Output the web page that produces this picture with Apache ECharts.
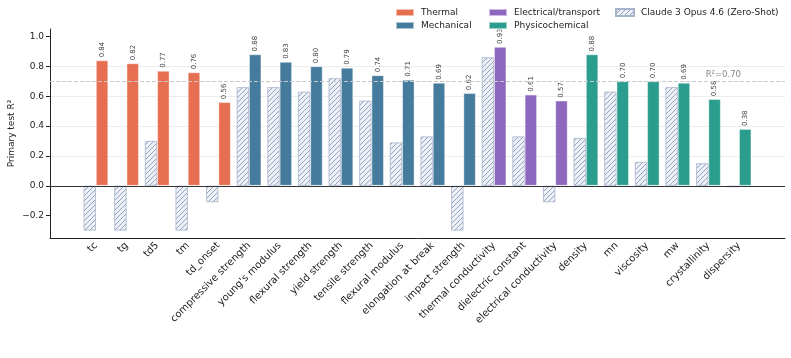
<!DOCTYPE html>
<html>
<head>
<meta charset="utf-8">
<script src="https://cdn.jsdelivr.net/npm/echarts@6/dist/echarts.min.js"></script>
<style>
  html, body { margin: 0; padding: 0; background: #fff; }
  #chart { width: 791px; height: 358px; }
</style>
</head>
<body>
<div id="chart"></div>
<script>
// property names, left to right
const categories = ['tc', 'tg', 'td5', 'tm', 'td_onset', 'compressive strength', "young's modulus",
  'flexural strength', 'yield strength', 'tensile strength', 'flexural modulus', 'elongation at break',
  'impact strength', 'thermal conductivity', 'dielectric constant', 'electrical conductivity',
  'density', 'mn', 'viscosity', 'mw', 'crystallinity', 'dispersity'];

// group of each property
const groups = ['Thermal', 'Thermal', 'Thermal', 'Thermal', 'Thermal',
  'Mechanical', 'Mechanical', 'Mechanical', 'Mechanical', 'Mechanical', 'Mechanical', 'Mechanical', 'Mechanical',
  'Electrical/transport', 'Electrical/transport', 'Electrical/transport',
  'Physicochemical', 'Physicochemical', 'Physicochemical', 'Physicochemical', 'Physicochemical', 'Physicochemical'];

// trained model R2
const modelR2 = [0.84, 0.82, 0.77, 0.76, 0.56, 0.88, 0.83, 0.80, 0.79, 0.74, 0.71, 0.69,
  0.62, 0.93, 0.61, 0.57, 0.88, 0.70, 0.70, 0.69, 0.58, 0.38];

// zero-shot LLM R2 (clipped at -0.3)
const zeroShotR2 = [-0.30, -0.30, 0.30, -0.30, -0.11, 0.66, 0.66, 0.63, 0.72, 0.57, 0.29, 0.33,
  -0.30, 0.86, 0.33, -0.11, 0.32, 0.63, 0.16, 0.66, 0.15, -0.01];

const groupNames = ['Thermal', 'Mechanical', 'Electrical/transport', 'Physicochemical'];
const groupColors = ['#E76F51', '#457B9D', '#8E67BF', '#2A9D8F'];
const yTicks = [-0.2, 0.0, 0.2, 0.4, 0.6, 0.8, 1.0];
const threshold = 0.70;
const zeroShotName = 'Claude 3 Opus 4.6 (Zero-Shot)';

// hatch pattern like matplotlib '///'
function makeHatch() {
  const s = 5;
  const c = document.createElement('canvas');
  c.width = s; c.height = s;
  const ctx = c.getContext('2d');
  ctx.fillStyle = '#edf0f6';
  ctx.fillRect(0, 0, s, s);
  ctx.strokeStyle = '#8a9bb9';
  ctx.lineWidth = 0.9;
  ctx.beginPath();
  ctx.moveTo(0, s); ctx.lineTo(s, 0);
  ctx.moveTo(-s / 2, s / 2); ctx.lineTo(s / 2, -s / 2);
  ctx.moveTo(s / 2, s * 1.5); ctx.lineTo(s * 1.5, s / 2);
  ctx.stroke();
  return c;
}
const hatch = { image: makeHatch(), repeat: 'repeat' };

// one empty slot at each end, like matplotlib's x margins
const axisCats = [''].concat(categories, ['']);
const pad = arr => [null].concat(arr, [null]);

const series = [{
  name: zeroShotName,
  type: 'bar',
  barWidth: 12.3,
  barGap: '0%',
  data: pad(zeroShotR2),
  itemStyle: { color: hatch, borderColor: '#a7b4cc', borderWidth: 0.8 },
  markLine: {
    silent: true,
    symbol: 'none',
    data: [
      {
        yAxis: 0,
        lineStyle: { color: '#333', type: 'solid', width: 1 },
        label: { show: false }
      },
      {
        yAxis: threshold,
        lineStyle: { color: '#c8c8c8', type: 'dashed', width: 1 },
        label: {
          show: true,
          position: 'insideEndTop',
          distance: 2,
          formatter: 'R²=' + threshold.toFixed(2),
          color: '#888',
          fontSize: 8.5,
          fontFamily: 'DejaVu Sans',
          padding: [0, 42, 0, 0]
        }
      }
    ]
  },
  z: 2
}];

groupNames.forEach((g, gi) => {
  series.push({
    name: g,
    type: 'bar',
    stack: 'model',
    barWidth: 12.3,
    data: pad(modelR2.map((v, i) => groups[i] === g ? v : null)),
    itemStyle: { color: groupColors[gi], borderColor: 'rgba(255,255,255,0.55)', borderWidth: 0.8 },
    label: {
      show: true,
      position: 'top',
      rotate: 90,
      align: 'left',
      verticalAlign: 'middle',
      distance: 3,
      fontSize: 7,
      fontFamily: 'DejaVu Sans',
      color: '#444',
      formatter: p => p.value == null ? '' : Number(p.value).toFixed(2)
    },
    z: 3
  });
});

const legendBase = {
  orient: 'vertical',
  top: 3,
  icon: 'rect',
  itemWidth: 18,
  itemHeight: 7,
  itemGap: 4,
  selectedMode: false,
  textStyle: { fontSize: 9, lineHeight: 9, fontFamily: 'DejaVu Sans', color: '#222', padding: [0, 0, 0, 2] }
};

const chart = echarts.init(document.getElementById('chart'), null, { renderer: 'canvas' });
chart.setOption({
  animation: false,
  backgroundColor: '#fff',
  legend: [
    Object.assign({}, legendBase, { left: 390, data: ['Thermal', 'Mechanical'] }),
    Object.assign({}, legendBase, { left: 483, data: ['Electrical/transport', 'Physicochemical'] }),
    Object.assign({}, legendBase, { left: 610, data: [zeroShotName] })
  ],
  grid: { left: 50, right: 6, top: 29, bottom: 120, containLabel: false, outerBoundsMode: 'none' },
  xAxis: {
    type: 'category',
    data: axisCats,
    axisLine: { show: true, onZero: false, lineStyle: { color: '#222', width: 1 } },
    axisTick: {
      alignWithLabel: true,
      interval: (i) => i > 0 && i < axisCats.length - 1,
      length: 4,
      lineStyle: { color: '#222' }
    },
    axisLabel: {
      interval: 0,
      rotate: 45,
      fontSize: 10,
      fontFamily: 'DejaVu Sans',
      color: '#222',
      margin: 6
    },
    splitLine: { show: false }
  },
  yAxis: {
    type: 'value',
    min: -0.35,
    max: 1.05,
    splitNumber: 7,
    name: 'Primary test R²',
    nameLocation: 'middle',
    nameGap: 34,
    nameMoveOverlap: false,
    nameTextStyle: { fontSize: 9, fontFamily: 'DejaVu Sans', color: '#222' },
    axisLine: { show: true, lineStyle: { color: '#222', width: 1 } },
    axisTick: { show: true, length: 4, customValues: yTicks, lineStyle: { color: '#222' } },
    axisLabel: {
      customValues: yTicks,
      fontSize: 9,
      fontFamily: 'DejaVu Sans',
      color: '#222',
      margin: 6,
      formatter: v => (v < 0 ? '\u2212' + Math.abs(v).toFixed(1) : v.toFixed(1))
    },
    splitLine: { show: true, showMinLine: false, showMaxLine: false, lineStyle: { color: '#ececec', width: 1 } }
  },
  series: series
});
</script>
</body>
</html>
